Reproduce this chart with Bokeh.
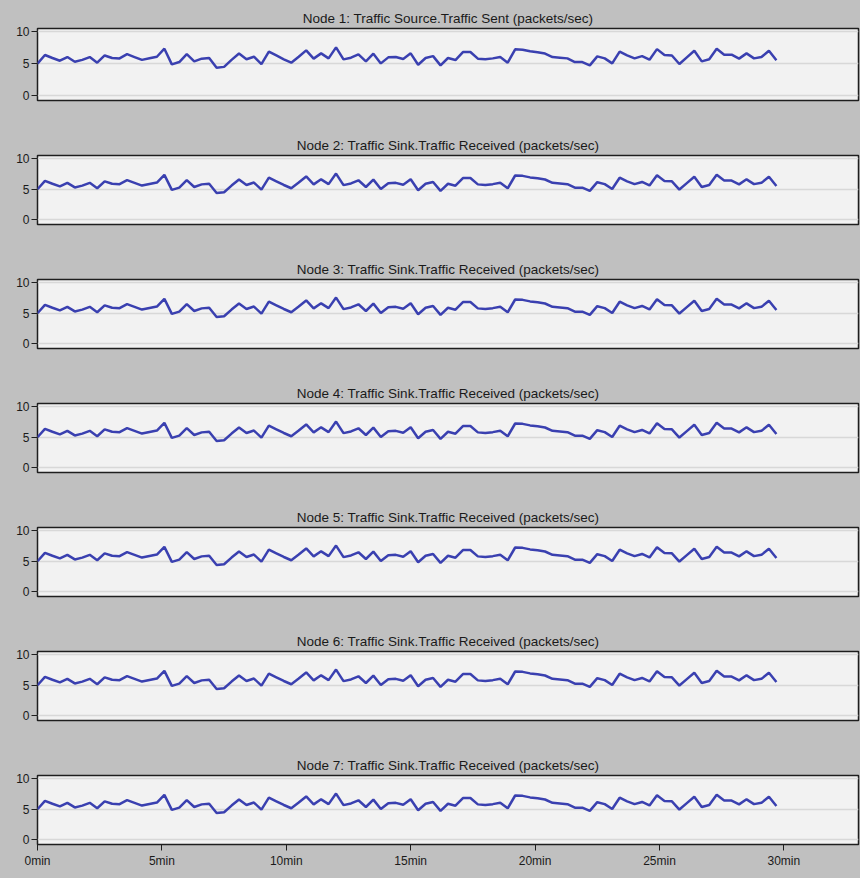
from bokeh.plotting import figure
from bokeh.layouts import column
from bokeh.models import FixedTicker
from bokeh.embed import file_html
from bokeh.resources import INLINE

# ---- data ----
panel_titles = [
    "Node 1: Traffic Source.Traffic Sent (packets/sec)",
    "Node 2: Traffic Sink.Traffic Received (packets/sec)",
    "Node 3: Traffic Sink.Traffic Received (packets/sec)",
    "Node 4: Traffic Sink.Traffic Received (packets/sec)",
    "Node 5: Traffic Sink.Traffic Received (packets/sec)",
    "Node 6: Traffic Sink.Traffic Received (packets/sec)",
    "Node 7: Traffic Sink.Traffic Received (packets/sec)",
]
sample_step_min = 0.3
packets_per_sec = [
    5.0, 6.37, 5.9, 5.47, 6.05, 5.3, 5.6, 6.05, 5.16, 6.3,
    5.9, 5.84, 6.5, 6.05, 5.6, 5.85, 6.1, 7.37, 4.9, 5.26,
    6.5, 5.37, 5.8, 5.9, 4.37, 4.5, 5.6, 6.6, 5.7, 6.1,
    4.95, 6.9, 6.3, 5.7, 5.16, 6.1, 7.1, 5.8, 6.63, 5.84,
    7.58, 5.68, 5.95, 6.47, 5.37, 6.58, 5.05, 6.0, 6.05, 5.74,
    6.63, 4.84, 5.9, 6.2, 4.74, 5.9, 5.58, 6.84, 6.84, 5.8,
    5.7, 5.84, 6.05, 5.16, 7.26, 7.2, 6.95, 6.8, 6.6, 6.05,
    5.95, 5.84, 5.26, 5.26, 4.74, 6.16, 5.84, 5.05, 6.9, 6.3,
    5.84, 6.2, 5.63, 7.3, 6.37, 6.3, 4.95, 6.0, 7.05, 5.37,
    5.7, 7.37, 6.42, 6.42, 5.8, 6.63, 5.84, 6.05, 7.05, 5.53,
]
time_min = [round(i * sample_step_min, 2) for i in range(len(packets_per_sec))]
x_ticks = [0, 5, 10, 15, 20, 25, 30]
x_tick_labels = ["0min", "5min", "10min", "15min", "20min", "25min", "30min"]
y_ticks = [0, 5, 10]

BG = "#c0c0c0"
FRAME_BG = "#f2f2f2"
LINE = "#3a40b0"
FONT = "Liberation Sans"

figs = []
n = len(panel_titles)
for k, t in enumerate(panel_titles):
    first = k == 0
    last = k == n - 1
    if first:
        h, top, bottom = 132, 28, 32
    elif last:
        h, top, bottom = 126, 20, 34
    else:
        h, top, bottom = 124, 20, 32
    p = figure(
        width=860, height=h,
        x_range=(0, 33), y_range=(-0.8, 10.55),
        output_backend="svg", toolbar_location=None,
        min_border_left=37, min_border_right=2,
        min_border_top=top, min_border_bottom=bottom,
        background_fill_color=FRAME_BG, border_fill_color=BG,
        outline_line_color="#1e1e1e", outline_line_width=1.5,
        title=t,
    )
    p.title.align = "center"
    p.title.text_font = FONT
    p.title.text_font_size = "13.5px"
    p.title.text_font_style = "normal"
    p.title.text_color = "#1a1a1a"
    p.title.standoff = 6

    p.yaxis.ticker = FixedTicker(ticks=y_ticks)
    p.yaxis.major_label_text_font = FONT
    p.yaxis.major_label_text_font_size = "12px"
    p.yaxis.major_label_text_color = "#1a1a1a"
    p.yaxis.axis_line_color = None
    p.yaxis.major_tick_out = 6
    p.yaxis.major_tick_in = 0
    p.yaxis.minor_tick_line_color = None
    p.yaxis.major_tick_line_color = "#1e1e1e"
    p.yaxis.major_label_standoff = 2

    p.ygrid.ticker = FixedTicker(ticks=y_ticks)
    p.ygrid.grid_line_color = "#d8d8d8"
    p.ygrid.grid_line_width = 1.5
    p.xgrid.grid_line_color = None

    if last:
        p.xaxis.ticker = FixedTicker(ticks=x_ticks)
        p.xaxis.major_label_overrides = dict(zip(x_ticks, x_tick_labels))
        p.xaxis.major_label_text_font = FONT
        p.xaxis.major_label_text_font_size = "12px"
        p.xaxis.major_label_text_color = "#1a1a1a"
        p.xaxis.axis_line_color = None
        p.xaxis.major_tick_out = 6
        p.xaxis.major_tick_in = 0
        p.xaxis.minor_tick_line_color = None
        p.xaxis.major_tick_line_color = "#1e1e1e"
        p.xaxis.major_label_standoff = 3
    else:
        p.xaxis.visible = False

    p.line(time_min, packets_per_sec, line_color=LINE, line_width=2.5)
    figs.append(p)

layout = column(*figs, spacing=0, styles={"background-color": BG})
open("out.html", "w").write(file_html(layout, INLINE))
